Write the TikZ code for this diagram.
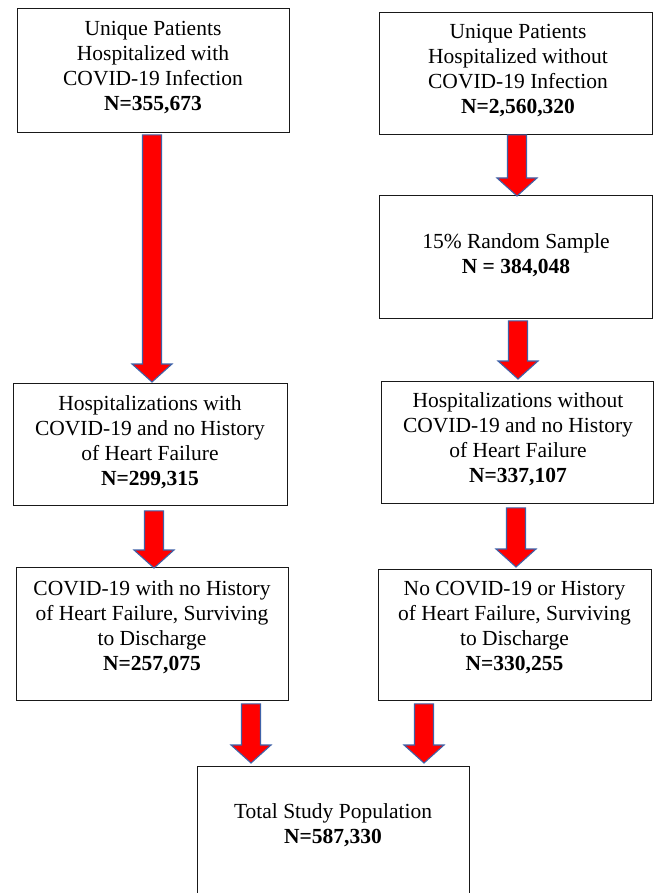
\documentclass[tikz,border=0pt]{standalone}
\usepackage{fontspec}
\setmainfont{Liberation Serif}
\usetikzlibrary{calc}
\definecolor{arrred}{HTML}{FF0000}
\definecolor{arrblue}{HTML}{3F62A8}
\tikzset{
  boxnode/.style={draw=black!90, line width=0.9pt, rectangle, inner sep=0pt, anchor=north west},
  labeltext/.style={align=center, inner sep=0pt, anchor=north, font=\fontsize{21.5}{25}\selectfont},
  barrowstyle/.style={fill=arrred, draw=arrblue, line width=1.1pt, line join=miter}
}
% #1 start coordinate, #2 tip coordinate
\newcommand\blockarrow[2]{%
  \draw[barrowstyle] let \p1=(#1), \p2=(#2) in
    (\x2-9.5pt,\y1) -- (\x2+9.5pt,\y1) -- (\x2+9.5pt,\y2+18pt) -- (\x2+20pt,\y2+18pt)
    -- (\x2,\y2) -- (\x2-20pt,\y2+18pt) -- (\x2-9.5pt,\y2+18pt) -- cycle;}
\begin{document}
\begin{tikzpicture}[x=1pt,y=-1pt]
\useasboundingbox (0,0) rectangle (654,893);
\fill[white] (0,0) rectangle (654,893);

% boxes
\node[boxnode, minimum width=272pt, minimum height=124pt] (b1) at (17,8) {};
\node[boxnode, minimum width=273pt, minimum height=122pt] (b2) at (379,12) {};
\node[boxnode, minimum width=273pt, minimum height=123pt] (b3) at (379,195) {};
\node[boxnode, minimum width=274pt, minimum height=122pt] (b4) at (13,383) {};
\node[boxnode, minimum width=272pt, minimum height=122pt] (b5) at (381,381) {};
\node[boxnode, minimum width=272pt, minimum height=133pt] (b6) at (16,567) {};
\node[boxnode, minimum width=273pt, minimum height=131pt] (b7) at (378,569) {};
\node[boxnode, draw=none, minimum width=272pt, minimum height=127pt] (b8) at (197,766) {};
\draw[draw=black!90, line width=0.9pt] (b8.south west) -- (b8.north west) -- (b8.north east) -- (b8.south east);

% texts
\node[labeltext] (t1) at (153,21.5) {Unique Patients\\Hospitalized with\\COVID-19 Infection\\\textbf{N=355,673}};
\node[labeltext] (t2) at (518,24.5) {Unique Patients\\Hospitalized without\\COVID-19 Infection\\\textbf{N=2,560,320}};
\node[labeltext] (t3) at (516,233.5) {15\% Random Sample\\\textbf{N = 384,048}};
\node[labeltext] (t4) at (150,395.5) {Hospitalizations with\\COVID-19 and no History\\of Heart Failure\\\textbf{N=299,315}};
\node[labeltext] (t5) at (518,392.5) {Hospitalizations without\\COVID-19 and no History\\of Heart Failure\\\textbf{N=337,107}};
\node[labeltext] (t6) at (152,580.5) {COVID-19 with no History\\of Heart Failure, Surviving\\to Discharge\\\textbf{N=257,075}};
\node[labeltext] (t7) at (514.5,581.5) {No COVID-19 or History\\of Heart Failure, Surviving\\to Discharge\\\textbf{N=330,255}};
\node[labeltext] (t8) at (333,803.5) {Total Study Population\\\textbf{N=587,330}};

% arrow anchor points
\coordinate (a1s) at ($(b1.south west)+(135,2)$);
\coordinate (a1e) at ($(b4.north west)+(139,-1)$);
\coordinate (a2s) at ($(b2.south west)+(138,0)$);
\coordinate (a2e) at ($(b3.north west)+(138,1)$);
\coordinate (a3s) at ($(b3.south west)+(139,2)$);
\coordinate (a3e) at ($(b5.north west)+(137,-2)$);
\coordinate (a4s) at ($(b4.south west)+(141,5)$);
\coordinate (a4e) at ($(b6.north west)+(138,1)$);
\coordinate (a5s) at ($(b5.south west)+(135,4)$);
\coordinate (a5e) at ($(b7.north west)+(138,-2)$);
\coordinate (a6s) at ($(b6.south west)+(235,3)$);
\coordinate (a6e) at ($(b8.north west)+(54,-3)$);
\coordinate (a7s) at ($(b7.south west)+(46,3)$);
\coordinate (a7e) at ($(b8.north west)+(227,-3)$);

\blockarrow{a1s}{a1e}
\blockarrow{a2s}{a2e}
\blockarrow{a3s}{a3e}
\blockarrow{a4s}{a4e}
\blockarrow{a5s}{a5e}
\blockarrow{a6s}{a6e}
\blockarrow{a7s}{a7e}
\end{tikzpicture}
\end{document}
